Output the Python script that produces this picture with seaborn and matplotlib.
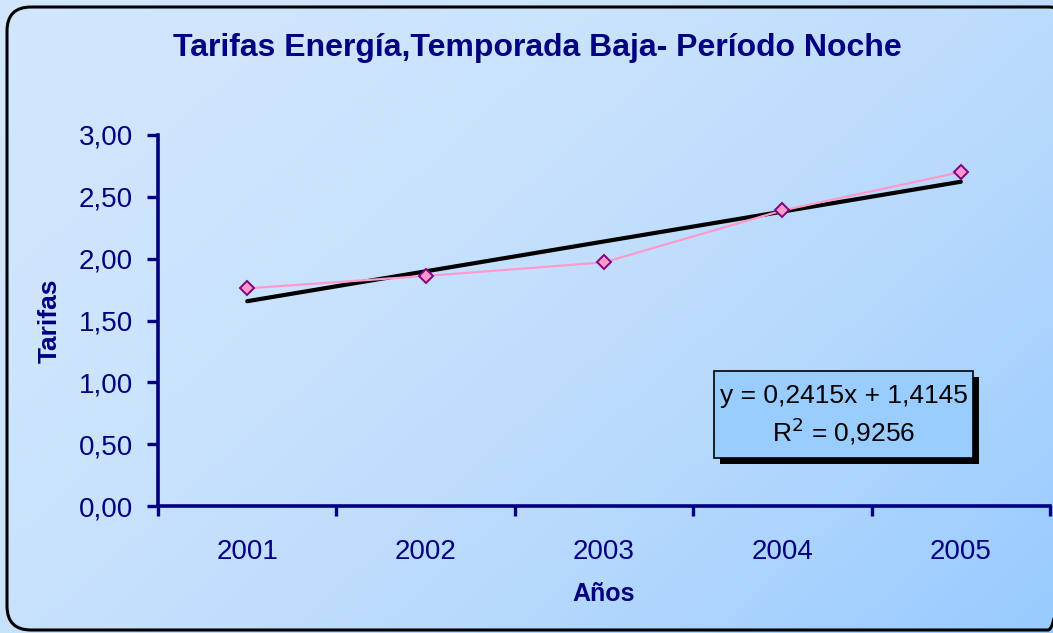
import numpy as np
import pandas as pd
import matplotlib
matplotlib.use("Agg")
import matplotlib.pyplot as plt
from matplotlib.patches import FancyBboxPatch
from matplotlib.colors import LinearSegmentedColormap
import seaborn as sns

# Night-period energy tariffs, low season
years = ["2001", "2002", "2003", "2004", "2005"]
tarifas = [1.76, 1.86, 1.97, 2.39, 2.70]

# Linear trend as reported on the chart
slope = 0.2415
intercept = 1.4145
r2 = 0.9256

y_ticks = [0.0, 0.5, 1.0, 1.5, 2.0, 2.5, 3.0]

NAVY = "#000080"

sns.set_theme(style="white")
plt.rcParams["font.family"] = ["Liberation Sans", "DejaVu Sans"]

W, H = 1053, 633
fig = plt.figure(figsize=(W / 100, H / 100), dpi=100)

# Diagonal gradient background, drawn in pixel coordinates
bg = fig.add_axes([0, 0, 1, 1], zorder=-10)
bg.set_axis_off()
gx, gy = np.meshgrid(np.linspace(0, 1, 400), np.linspace(0, 1, 240))
grad = np.clip(gx * 0.6 + gy * 0.4, 0, 1)
cmap = LinearSegmentedColormap.from_list(
    "bgblue", [(0.0, "#D2E7FC"), (0.35, "#CAE3FC"), (0.65, "#B9DAFD"), (1.0, "#98CBFF")])
bg.imshow(grad, cmap=cmap, aspect="auto", extent=[0, W, H, 0], origin="upper",
          interpolation="bilinear")
bg.set_xlim(0, W)
bg.set_ylim(H, 0)

# Rounded outer frame (right side runs past the edge)
frame = FancyBboxPatch((7, 7), 1072 - 7, 630 - 7,
                       boxstyle="round,pad=0,rounding_size=24",
                       fill=False, edgecolor="black", linewidth=2.2)
bg.add_patch(frame)

# Plot area
left, right = 158 / W, 1050 / W
bottom, top = 1 - 506 / H, 1 - 135 / H
ax = fig.add_axes([left, bottom, right - left, top - bottom])
ax.patch.set_alpha(0)

df = pd.DataFrame({"Años": years, "Tarifas": tarifas})
sns.lineplot(data=df, x="Años", y="Tarifas", ax=ax, color="#FF99CC",
             linewidth=1.6, marker="D", markersize=7.5,
             markerfacecolor="#FF99CC", markeredgecolor="#800080",
             markeredgewidth=1.4, zorder=3, sort=False)

pos = np.arange(len(years))
trend = slope * (pos + 1) + intercept
sns.lineplot(x=pos, y=trend, ax=ax, color="black", linewidth=3.0, zorder=2)

ax.set_xlim(-0.5, len(years) - 0.5)
ax.set_ylim(0, 3.0)
ax.set_yticks(y_ticks)
ax.set_yticklabels([f"{v:.2f}".replace(".", ",") for v in y_ticks])
ax.set_xticks(pos)
ax.set_xticklabels(years)
ax.set_xticks(np.arange(len(years) + 1) - 0.5, minor=True)

for s in ["top", "right"]:
    ax.spines[s].set_visible(False)
for s in ["left", "bottom"]:
    ax.spines[s].set_color(NAVY)
    ax.spines[s].set_linewidth(2.6)

ax.tick_params(axis="y", which="major", direction="out", length=8, width=2.4,
               color=NAVY, labelcolor=NAVY, labelsize=20, pad=10, left=True)
ax.tick_params(axis="x", which="major", length=0, labelcolor=NAVY,
               labelsize=20, pad=24)
ax.tick_params(axis="x", which="minor", direction="out", length=7, width=2.4,
               color=NAVY, bottom=True)
ax.grid(False)

ax.set_xlabel("Años", fontsize=18, fontweight="bold", color=NAVY, labelpad=12)
ax.set_ylabel("Tarifas", fontsize=19, fontweight="bold", color=NAVY, labelpad=12)

fig.text(537 / W, 1 - 48 / H, "Tarifas Energía,Temporada Baja- Período Noche",
         ha="center", va="center", fontsize=23, fontweight="bold", color=NAVY)

# Trend equation box with drop shadow
eq_text = (f"y = {slope:.4f}x + {intercept:.4f}".replace(".", ",") + "\n"
           + f"R$^2$ = {r2:.4f}".replace(".", ","))
bx0, by0, bx1, by1 = 714, 371, 973, 458
shadow = plt.Rectangle((bx0 + 6, by0 + 6), bx1 - bx0, by1 - by0,
                       facecolor="black", edgecolor="none", zorder=5)
box = plt.Rectangle((bx0, by0), bx1 - bx0, by1 - by0, facecolor="#99CCFF",
                    edgecolor="black", linewidth=1.2, zorder=6)
bg.add_patch(shadow)
bg.add_patch(box)
bg.text((bx0 + bx1) / 2, (by0 + by1) / 2 + 1, eq_text, ha="center",
        va="center", fontsize=19, color="black", linespacing=1.3, zorder=7)

fig.savefig("out.png", dpi=100)
